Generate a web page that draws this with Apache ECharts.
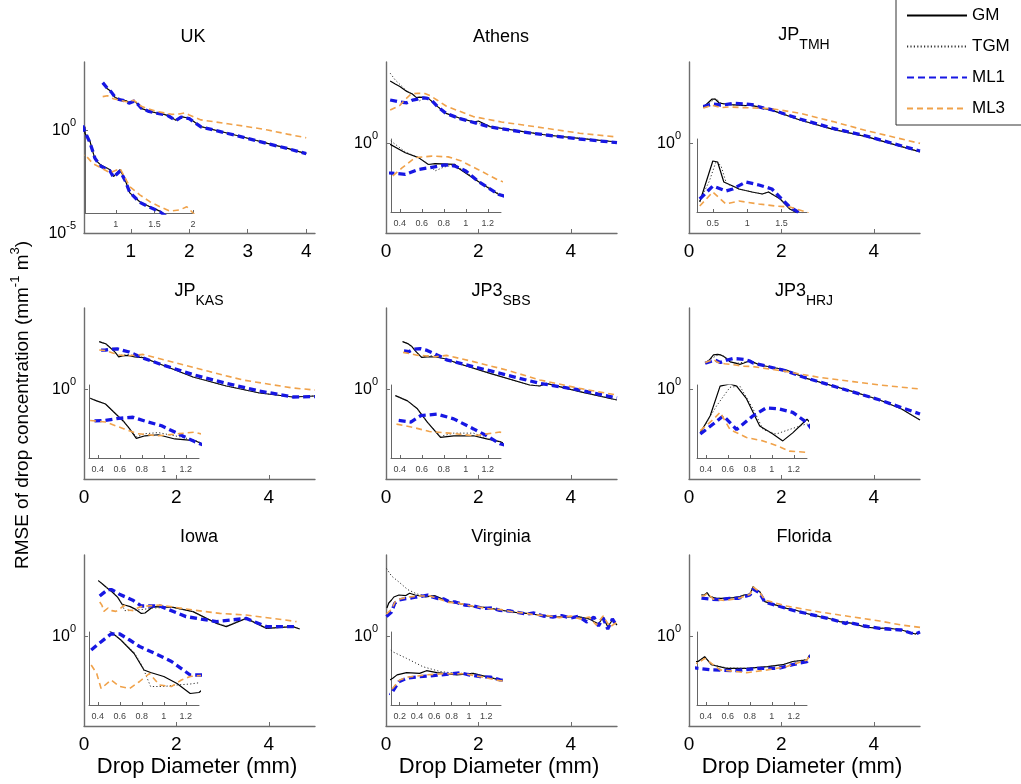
<!DOCTYPE html>
<html><head><meta charset="utf-8">
<script src="https://cdn.jsdelivr.net/npm/echarts@6/dist/echarts.min.js"></script>
<style>html,body{margin:0;padding:0;background:#fff}#c{width:1021px;height:784px}</style>
</head><body><div id="c"></div>
<script>
// ===== Data: each point = [drop diameter (mm), log10 of RMSE of drop concentration] =====
const SERIES_NAMES = ['GM', 'TGM', 'ML1', 'ML3'];
const PANEL_TITLES = [['UK',''],['Athens',''],['JP','TMH'],['JP','KAS'],['JP3','SBS'],['JP3','HRJ'],['Iowa',''],['Virginia',''],['Florida','']];
const X_TICKS_UK = [1, 2, 3, 4];
const X_TICKS = [0, 2, 4];
const INSET_TICKS_UK = [1, 1.5, 2];
const INSET_TICKS = [0.4, 0.6, 0.8, 1, 1.2];
const INSET_TICKS_TMH = [0.5, 1, 1.5];
const INSET_TICKS_VIR = [0.2, 0.4, 0.6, 0.8, 1, 1.2];
const Y_TICKS_UK = [1e-5, 1];
const Y_TICKS = [1];

const UK_GM = [[0.52,2.27],[0.6,2.0],[0.665,1.87],[0.73,1.58],[0.8,1.5],[0.925,1.42],[0.97,1.31],[1.055,1.42],[1.12,1.26],[1.18,1.05],[1.31,0.91],[1.44,0.83],[1.57,0.76],[1.64,0.7],[1.77,0.47],[1.86,0.65],[2.0,0.57],[2.2,0.16],[2.66,-0.16],[3.0,-0.4],[3.34,-0.65],[3.68,-0.89],[4.0,-1.15]];
const UK_TGM = [[0.52,2.27],[0.6,2.0],[0.665,1.87],[0.73,1.58],[0.8,1.5],[0.925,1.42],[0.97,1.31],[1.055,1.42],[1.12,1.26],[1.18,1.05],[1.31,0.91],[1.44,0.83],[1.57,0.76],[1.64,0.7],[1.77,0.47],[1.86,0.65],[2.0,0.57],[2.2,0.16],[2.66,-0.16],[3.0,-0.4],[3.34,-0.65],[3.68,-0.89],[4.0,-1.15]];
const UK_ML1 = [[0.52,2.3],[0.6,2.02],[0.665,1.85],[0.73,1.6],[0.8,1.48],[0.925,1.4],[0.97,1.3],[1.055,1.4],[1.12,1.25],[1.18,1.06],[1.31,0.9],[1.44,0.82],[1.57,0.75],[1.64,0.69],[1.77,0.46],[1.86,0.63],[2.0,0.55],[2.2,0.15],[2.66,-0.17],[3.0,-0.41],[3.34,-0.66],[3.68,-0.9],[4.0,-1.15]];
const UK_ML3 = [[0.52,1.62],[0.6,1.66],[0.7,1.52],[0.925,1.37],[1.055,1.44],[1.18,1.15],[1.31,1.02],[1.44,0.91],[1.57,0.83],[1.7,0.76],[1.83,0.78],[1.92,0.83],[2.0,0.73],[2.2,0.49],[2.66,0.3],[3.0,0.16],[3.34,0.0],[3.68,-0.2],[4.0,-0.38]];

const ATH_GM = [[0.09,3.1],[0.2,2.95],[0.3,2.82],[0.45,2.58],[0.57,2.45],[0.66,2.27],[0.72,2.29],[0.9,2.27],[0.93,2.18],[1.11,1.83],[1.3,1.48],[1.6,1.24],[1.9,1.05],[2.0,1.1],[2.25,0.82],[2.6,0.7],[2.97,0.57],[3.47,0.4],[4.19,0.23],[5.0,0.05]];
const ATH_TGM = [[0.09,3.49],[0.2,3.15],[0.3,2.93],[0.45,2.6],[0.57,2.45],[0.66,2.28],[0.72,2.1],[0.8,2.2],[0.9,2.27],[1.11,1.85],[1.3,1.5],[1.6,1.24],[2.25,0.82],[2.97,0.57],[3.47,0.4],[4.19,0.23],[5.0,0.05]];
const ATH_ML1 = [[0.09,2.15],[0.3,2.05],[0.45,2.01],[0.57,2.14],[0.66,2.18],[0.81,2.26],[0.9,2.23],[1.0,2.1],[1.11,1.83],[1.3,1.48],[1.6,1.22],[2.25,0.8],[2.97,0.55],[3.47,0.4],[4.19,0.2],[5.0,0.02]];
const ATH_ML3 = [[0.09,1.65],[0.3,1.88],[0.42,2.18],[0.54,2.45],[0.69,2.49],[0.84,2.47],[0.96,2.36],[1.11,2.14],[1.3,1.85],[1.89,1.32],[2.5,1.05],[2.97,0.9],[4.19,0.49],[5.0,0.3]];

const TMH_GM = [[0.31,1.79],[0.5,2.2],[0.57,2.19],[0.66,1.99],[0.79,1.95],[0.88,1.92],[1.07,1.89],[1.22,1.87],[1.31,1.89],[1.48,1.82],[1.62,1.72],[1.7,1.69],[1.82,1.62],[2.4,1.15],[3.12,0.68],[3.84,0.32],[5.0,-0.44]];
const TMH_TGM = [[0.31,1.8],[0.45,2.0],[0.55,2.2],[0.62,2.15],[0.7,1.97],[0.79,1.95],[0.88,1.92],[1.07,1.89],[1.22,1.87],[1.31,1.89],[1.48,1.82],[1.62,1.72],[1.7,1.69],[1.82,1.62],[2.4,1.15],[3.12,0.68],[3.84,0.32],[5.0,-0.44]];
const TMH_ML1 = [[0.31,1.82],[0.5,1.95],[0.69,1.9],[0.79,1.92],[0.98,1.99],[1.17,1.96],[1.36,1.92],[1.5,1.82],[1.62,1.74],[1.74,1.69],[1.82,1.64],[2.4,1.2],[3.12,0.73],[3.84,0.35],[5.0,-0.4]];
const TMH_ML3 = [[0.31,1.75],[0.5,1.89],[0.69,1.77],[0.88,1.8],[1.17,1.77],[1.41,1.75],[1.62,1.74],[1.86,1.69],[2.4,1.49],[3.12,1.07],[3.84,0.62],[5.0,-0.02]];

const KAS_GM = [[0.33,2.37],[0.39,2.32],[0.47,2.26],[0.55,2.1],[0.64,1.92],[0.69,1.79],[0.75,1.61],[0.83,1.66],[0.95,1.68],[1.1,1.6],[1.28,1.57],[1.64,1.25],[2.36,0.6],[3.08,0.15],[3.8,-0.2],[4.52,-0.4],[5.0,-0.35]];
const KAS_TGM = [[0.33,2.37],[0.39,2.32],[0.47,2.26],[0.55,2.1],[0.64,1.92],[0.69,1.79],[0.75,1.64],[0.83,1.7],[0.95,1.72],[1.1,1.66],[1.28,1.58],[1.64,1.25],[2.36,0.6],[3.08,0.15],[3.8,-0.2],[4.52,-0.4],[5.0,-0.35]];
const KAS_ML1 = [[0.37,1.94],[0.47,1.95],[0.59,1.99],[0.72,2.01],[0.84,1.93],[0.98,1.85],[1.1,1.73],[1.28,1.55],[1.64,1.25],[2.36,0.72],[3.08,0.28],[3.8,-0.1],[4.52,-0.4],[5.0,-0.38]];
const KAS_ML3 = [[0.33,1.95],[0.47,1.92],[0.64,1.79],[0.76,1.7],[0.95,1.66],[1.14,1.7],[1.28,1.73],[2.0,1.3],[2.72,0.87],[3.44,0.45],[4.52,0.05],[5.0,-0.05]];

const SBS_GM = [[0.36,2.37],[0.47,2.27],[0.56,2.12],[0.65,1.87],[0.77,1.58],[0.89,1.61],[1.07,1.61],[1.19,1.55],[1.31,1.5],[1.53,1.3],[2.25,0.78],[3.11,0.2],[3.33,0.15],[3.47,0.28],[4.19,-0.13],[5.0,-0.55]];
const SBS_TGM = [[0.36,2.37],[0.47,2.27],[0.56,2.12],[0.65,1.87],[0.77,1.6],[0.89,1.66],[1.07,1.66],[1.19,1.56],[1.31,1.5],[1.53,1.3],[2.25,0.78],[3.11,0.2],[3.33,0.15],[3.47,0.28],[4.19,-0.13],[5.0,-0.55]];
const SBS_ML1 = [[0.39,1.9],[0.5,1.87],[0.59,1.99],[0.74,2.02],[0.89,1.93],[1.07,1.74],[1.19,1.61],[1.31,1.46],[1.89,1.12],[2.61,0.7],[3.33,0.28],[4.19,-0.05],[5.0,-0.45]];
const SBS_ML3 = [[0.37,1.83],[0.52,1.77],[0.67,1.69],[0.85,1.66],[1.07,1.61],[1.31,1.68],[1.89,1.37],[2.61,0.95],[3.33,0.45],[4.19,0.03],[5.0,-0.3]];

const HRJ_GM = [[0.35,1.3],[0.44,1.45],[0.53,1.71],[0.62,1.73],[0.68,1.71],[0.77,1.6],[0.89,1.36],[1.01,1.29],[1.1,1.23],[1.19,1.3],[1.32,1.42],[1.53,1.2],[2.11,0.95],[2.54,0.53],[2.97,0.25],[3.55,-0.13],[4.13,-0.55],[4.6,-1.0],[5.0,-1.55]];
const HRJ_TGM = [[0.35,1.3],[0.5,1.54],[0.62,1.7],[0.71,1.71],[0.83,1.51],[0.92,1.33],[1.04,1.29],[1.16,1.33],[1.32,1.38],[1.53,1.2],[2.11,0.95],[2.54,0.53],[2.97,0.25],[3.55,-0.13],[4.13,-0.55],[4.6,-1.0],[5.0,-1.55]];
const HRJ_ML1 = [[0.35,1.29],[0.47,1.38],[0.56,1.45],[0.68,1.33],[0.83,1.45],[0.95,1.52],[1.07,1.51],[1.19,1.48],[1.32,1.39],[1.39,1.3],[1.75,1.1],[2.11,0.9],[2.47,0.6],[3.19,0.1],[4.13,-0.55],[5.0,-1.25]];
const HRJ_ML3 = [[0.35,1.32],[0.47,1.42],[0.53,1.48],[0.62,1.33],[0.77,1.26],[0.92,1.23],[1.04,1.19],[1.16,1.14],[1.32,1.13],[1.39,1.12],[2.11,0.87],[2.83,0.58],[3.55,0.37],[4.13,0.2],[5.0,0.0]];

const IOW_GM = [[0.31,2.77],[0.4,2.6],[0.52,2.36],[0.61,2.2],[0.73,1.93],[0.82,1.6],[0.88,1.55],[1.0,1.47],[1.12,1.33],[1.24,1.13],[1.32,1.15],[1.5,1.47],[1.93,1.43],[2.36,1.22],[2.87,0.63],[3.08,0.47],[3.51,0.88],[3.95,0.38],[4.52,0.47],[4.67,0.35]];
const IOW_TGM = [[0.31,2.77],[0.5,2.4],[0.61,2.2],[0.73,1.95],[0.8,1.7],[0.88,1.27],[1.0,1.27],[1.12,1.3],[1.24,1.32],[1.5,1.4],[1.93,1.43],[2.36,1.22],[2.87,0.63],[3.08,0.5],[3.51,0.88],[3.95,0.38],[4.52,0.47],[4.67,0.35]];
const IOW_ML1 = [[0.34,2.0],[0.41,2.13],[0.52,2.32],[0.6,2.32],[0.69,2.2],[0.78,2.07],[0.92,1.93],[1.07,1.77],[1.24,1.5],[1.64,1.5],[2.21,0.97],[2.87,0.72],[3.51,0.88],[3.95,0.47],[4.6,0.47]];
const IOW_ML3 = [[0.34,1.7],[0.39,1.53],[0.43,1.23],[0.52,1.4],[0.6,1.27],[0.69,1.23],[0.78,1.37],[0.87,1.53],[0.96,1.3],[1.07,1.27],[1.16,1.4],[1.24,1.47],[1.64,1.55],[2.36,1.3],[2.94,1.13],[3.51,1.05],[4.09,0.88],[4.6,0.72]];

const VIR_GM = [[0.02,1.4],[0.06,1.65],[0.12,1.8],[0.17,1.95],[0.28,2.05],[0.43,2.02],[0.51,2.14],[0.63,2.05],[0.86,1.95],[1.05,2.02],[1.2,1.87],[1.36,1.72],[1.6,1.62],[1.89,1.47],[2.2,1.42],[2.46,1.3],[2.8,1.18],[3.04,1.13],[3.3,1.05],[3.61,0.97],[3.9,0.95],[4.16,0.97],[4.4,0.85],[4.6,0.6],[4.7,0.95],[4.8,0.45],[4.9,0.8],[5.0,0.55]];
const VIR_TGM = [[0.01,3.38],[0.12,3.0],[0.28,2.7],[0.47,2.32],[0.67,2.1],[0.86,2.02],[1.05,2.02],[1.2,1.87],[1.36,1.72],[1.6,1.62],[1.89,1.47],[2.2,1.42],[2.46,1.3],[2.8,1.18],[3.04,1.13],[3.3,1.05],[3.61,0.97],[3.9,0.95],[4.16,0.97],[4.4,0.85],[4.6,0.6],[4.7,0.95],[4.8,0.45],[4.9,0.8],[5.0,0.55]];
const VIR_ML1 = [[0.01,0.97],[0.12,1.2],[0.19,1.64],[0.28,1.8],[0.43,1.87],[0.55,1.9],[0.67,1.95],[0.8,2.0],[0.9,2.05],[1.0,1.95],[1.13,1.87],[1.25,1.85],[1.36,1.72],[1.5,1.7],[1.7,1.55],[1.89,1.5],[2.1,1.38],[2.3,1.4],[2.46,1.28],[2.7,1.25],[3.04,1.1],[3.2,1.15],[3.4,1.0],[3.61,0.95],[3.8,1.02],[4.0,0.9],[4.16,0.98],[4.35,0.7],[4.5,0.95],[4.6,0.5],[4.7,0.9],[4.8,0.35],[4.9,0.85],[5.0,0.5]];
const VIR_ML3 = [[0.01,1.1],[0.12,1.34],[0.2,1.72],[0.3,1.85],[0.5,1.95],[0.7,2.0],[0.95,2.0],[1.15,1.85],[1.36,1.68],[1.55,1.65],[1.8,1.52],[2.0,1.45],[2.25,1.35],[2.5,1.32],[2.75,1.2],[3.0,1.15],[3.25,1.05],[3.5,1.02],[3.75,0.92],[4.0,1.0],[4.2,0.85],[4.4,0.95],[4.55,0.55],[4.7,1.0],[4.85,0.45],[5.0,0.7]];

const FLO_GM = [[0.27,2.05],[0.33,2.05],[0.39,2.17],[0.45,1.97],[0.59,1.88],[0.77,1.88],[0.96,1.92],[1.1,1.97],[1.19,2.05],[1.32,2.09],[1.39,2.47],[1.45,2.3],[1.53,2.22],[1.64,1.72],[2.11,1.38],[2.3,1.3],[2.5,1.15],[2.83,0.97],[3.0,0.9],[3.26,0.72],[3.55,0.63],[3.8,0.45],[4.13,0.38],[4.3,0.4],[4.6,0.3],[4.9,0.1],[5.0,0.2]];
const FLO_TGM = [[0.27,2.06],[0.33,2.06],[0.39,2.18],[0.45,1.98],[0.59,1.89],[0.77,1.88],[0.96,1.92],[1.1,1.97],[1.19,2.05],[1.32,2.1],[1.39,2.48],[1.45,2.3],[1.53,2.22],[1.64,1.72],[2.11,1.38],[2.3,1.3],[2.5,1.15],[2.83,0.97],[3.0,0.9],[3.26,0.72],[3.55,0.63],[3.8,0.45],[4.13,0.38],[4.3,0.4],[4.6,0.3],[4.9,0.1],[5.0,0.2]];
const FLO_ML1 = [[0.27,1.9],[0.33,1.88],[0.46,1.84],[0.67,1.82],[0.88,1.88],[1.06,1.88],[1.19,1.97],[1.32,2.05],[1.39,2.35],[1.53,2.15],[1.64,1.7],[2.11,1.38],[2.3,1.25],[2.5,1.15],[2.83,0.97],[3.0,0.88],[3.26,0.72],[3.4,0.62],[3.45,0.72],[3.55,0.63],[3.8,0.5],[4.13,0.38],[4.3,0.35],[4.6,0.3],[4.8,0.15],[4.9,0.1],[5.0,0.2]];
const FLO_ML3 = [[0.27,2.0],[0.33,2.01],[0.39,2.13],[0.53,1.84],[0.77,1.77],[0.96,1.84],[1.13,1.92],[1.32,2.09],[1.39,2.45],[1.53,2.2],[1.64,1.8],[2.11,1.5],[2.83,1.2],[3.26,1.05],[3.55,0.95],[4.13,0.75],[4.6,0.55],[5.0,0.43]];

// ===== Layout / styling =====
const FONT = "'Liberation Sans', Arial, Helvetica, sans-serif";
const COL_L = [84, 386, 689];
const ROW_B = [233, 479, 726];
const W = 231, H = 171;
const INSET_OFF = [5, 5, 8];

const panels = [
  {d:[UK_GM,UK_TGM,UK_ML1,UK_ML3], xr:[0.2,4.15], xt:X_TICKS_UK, yr:[-5,3.3], yt:Y_TICKS_UK, ix:[0.6,2.0], it:INSET_TICKS_UK, iy:[0.73,2.1], ib:{dx:1, top:127, w:108, h:86}, tx:193},
  {d:[ATH_GM,ATH_TGM,ATH_ML1,ATH_ML3], xr:[0,5], xt:X_TICKS, yr:[-4.5,4.05], yt:Y_TICKS, ix:[0.32,1.32], it:INSET_TICKS, iy:[1.02,2.94]},
  {d:[TMH_GM,TMH_TGM,TMH_ML1,TMH_ML3], xr:[0,5], xt:X_TICKS, yr:[-4.5,4.05], yt:Y_TICKS, ix:[0.27,1.87], it:INSET_TICKS_TMH, iy:[1.69,2.42]},
  {d:[KAS_GM,KAS_TGM,KAS_ML1,KAS_ML3], xr:[0,5], xt:X_TICKS, yr:[-4.5,4.05], yt:Y_TICKS, ix:[0.32,1.32], it:INSET_TICKS, iy:[1.24,2.62]},
  {d:[SBS_GM,SBS_TGM,SBS_ML1,SBS_ML3], xr:[0,5], xt:X_TICKS, yr:[-4.5,4.05], yt:Y_TICKS, ix:[0.32,1.32], it:INSET_TICKS, iy:[1.19,2.57]},
  {d:[HRJ_GM,HRJ_TGM,HRJ_ML1,HRJ_ML3], xr:[0,5], xt:X_TICKS, yr:[-4.5,4.05], yt:Y_TICKS, ix:[0.32,1.32], it:INSET_TICKS, iy:[1.08,1.72]},
  {d:[IOW_GM,IOW_TGM,IOW_ML1,IOW_ML3], xr:[0,5], xt:X_TICKS, yr:[-4.5,4.05], yt:Y_TICKS, ix:[0.32,1.32], it:INSET_TICKS, iy:[0.9,2.36]},
  {d:[VIR_GM,VIR_TGM,VIR_ML1,VIR_ML3], xr:[0,5], xt:X_TICKS, yr:[-4.5,4.05], yt:Y_TICKS, ix:[0.1,1.37], it:INSET_TICKS_VIR, iy:[0.58,3.9]},
  {d:[FLO_GM,FLO_TGM,FLO_ML1,FLO_ML3], xr:[0,5], xt:X_TICKS, yr:[-4.5,4.05], yt:Y_TICKS, ix:[0.32,1.32], it:INSET_TICKS, iy:[0.96,2.79]}
];

const LINE = {
  GM:  {color:'#000000', width:1.2, type:'solid'},
  TGM: {color:'#333333', width:1, type:[1.2, 2.2]},
  ML1: {color:'#1717e3', width:3.3, type:[7, 4]},
  ML3: {color:'#f0a24a', width:1.6, type:[6, 4]}
};

const toVal = arr => arr.map(p => [p[0], Math.pow(10, p[1])]);

const grid = [], xAxis = [], yAxis = [], series = [], graphic = [];
const axisCol = '#6e6e6e';
const TITLE_Y = [37, 289, 537];

panels.forEach((p, i) => {
  const col = i % 3, row = Math.floor(i / 3);
  const L = COL_L[col], B = ROW_B[row];
  const mi = 2 * i, ii = 2 * i + 1;
  grid.push({left: L, top: B - H, width: W, height: H});
  const ib = p.ib || {dx: INSET_OFF[col], top: B - 94, w: 110, h: 73};
  grid.push({left: L + ib.dx, top: ib.top, width: ib.w, height: ib.h});

  xAxis.push({
    type:'value', gridIndex: mi, min: p.xr[0], max: p.xr[1],
    axisLine:{show:true, onZero:false, lineStyle:{color:axisCol, width:1.4}},
    axisTick:{show:true, inside:true, length:4, customValues:p.xt, lineStyle:{color:axisCol}},
    axisLabel:{customValues:p.xt, fontSize:19, color:'#000', margin:9, fontFamily:FONT},
    splitLine:{show:false}
  });
  xAxis.push({
    type:'value', gridIndex: ii, min: p.ix[0], max: p.ix[1],
    axisLine:{show:true, onZero:false, lineStyle:{color:'#666', width:1}},
    axisTick:{show:true, inside:true, length:3, customValues:p.it, lineStyle:{color:'#666'}},
    axisLabel:{customValues:p.it, fontSize:9, color:'#444', margin:7, fontFamily:FONT},
    splitLine:{show:false}
  });
  yAxis.push({
    type:'log', logBase:10, gridIndex: mi, min: Math.pow(10, p.yr[0]), max: Math.pow(10, p.yr[1]),
    axisLine:{show:true, onZero:false, lineStyle:{color:axisCol, width:1.4}},
    axisTick:{show:true, inside:true, length:4, customValues:p.yt, lineStyle:{color:axisCol}},
    axisLabel:{customValues:p.yt, margin:8, color:'#000',
      formatter: v => '{b|10}{s|' + Math.round(Math.log10(v)) + '}',
      rich:{
        b:{fontSize:16, lineHeight:18, verticalAlign:'bottom', fontFamily:FONT, color:'#000'},
        s:{fontSize:11, lineHeight:11, padding:[0,0,11,0], verticalAlign:'bottom', fontFamily:FONT, color:'#000'}
      }},
    splitLine:{show:false}
  });
  yAxis.push({
    type:'log', logBase:10, gridIndex: ii, min: Math.pow(10, p.iy[0]), max: Math.pow(10, p.iy[1]),
    axisLine:{show:true, onZero:false, lineStyle:{color:'#666', width:1}},
    axisTick:{show:false}, axisLabel:{show:false}, splitLine:{show:false}
  });

  SERIES_NAMES.forEach((nm, k) => {
    const data = toVal(p.d[k]);
    [mi, ii].forEach(ax => {
      series.push({
        type:'line', name:nm, xAxisIndex:ax, yAxisIndex:ax, data,
        symbol:'none', showSymbol:false, clip:true, silent:true, animation:false,
        lineStyle:{color:LINE[nm].color, width:LINE[nm].width, type:LINE[nm].type},
        itemStyle:{color:LINE[nm].color}, z: 2 + k
      });
    });
  });

  const [base, sub] = PANEL_TITLES[i];
  const cx = p.tx || (L + 115);
  if (sub) {
    graphic.push({type:'text', x: cx, y: TITLE_Y[row] + (row === 0 ? -1 : 3), silent:true,
      style:{text:'{b|' + base + '}{s|' + sub + '}', align:'center', verticalAlign:'middle',
        rich:{
          b:{fontSize:18, lineHeight:20, verticalAlign:'top', fontFamily:FONT, fill:'#000'},
          s:{fontSize:14, lineHeight:14, padding:[12,0,0,0], verticalAlign:'top', fontFamily:FONT, fill:'#000'}
        }}});
  } else {
    graphic.push({type:'text', x: cx, y: TITLE_Y[row], silent:true,
      style:{text: base, align:'center', verticalAlign:'middle', fontSize:18, fontFamily:FONT, fill:'#000'}});
  }
});

// x-axis titles
COL_L.forEach(L => {
  graphic.push({type:'text', x: L + 113, y: 767, silent:true,
    style:{text:'Drop Diameter (mm)', align:'center', verticalAlign:'middle', fontSize:22, fontFamily:FONT, fill:'#000'}});
});
// y-axis title
graphic.push({type:'text', x: 22, y: 405, rotation: Math.PI / 2, silent:true,
  style:{text:'{b|RMSE of drop concentration (mm}{s|-1}{b| m}{s|3}{b|)}', align:'center', verticalAlign:'middle',
    rich:{
      b:{fontSize:19, lineHeight:21, verticalAlign:'bottom', fontFamily:FONT, fill:'#000'},
      s:{fontSize:13, lineHeight:13, padding:[0,0,11,0], verticalAlign:'bottom', fontFamily:FONT, fill:'#000'}
    }}});

const chart = echarts.init(document.getElementById('c'), null, {renderer:'canvas'});
chart.setOption({
  animation:false,
  backgroundColor:'#fff',
  grid, xAxis, yAxis, series, graphic,
  legend:{
    data: SERIES_NAMES, orient:'vertical', left: 896, top: -1,
    itemWidth: 60, itemHeight: 12, itemGap: 14, selectedMode:false,
    itemStyle:{opacity:0, borderWidth:0},
    padding:[8, 12, 8, 10], backgroundColor:'#fff', borderColor:'#333', borderWidth:1,
    textStyle:{fontSize:17, color:'#000', fontFamily:FONT}
  }
});
</script>
</body></html>
